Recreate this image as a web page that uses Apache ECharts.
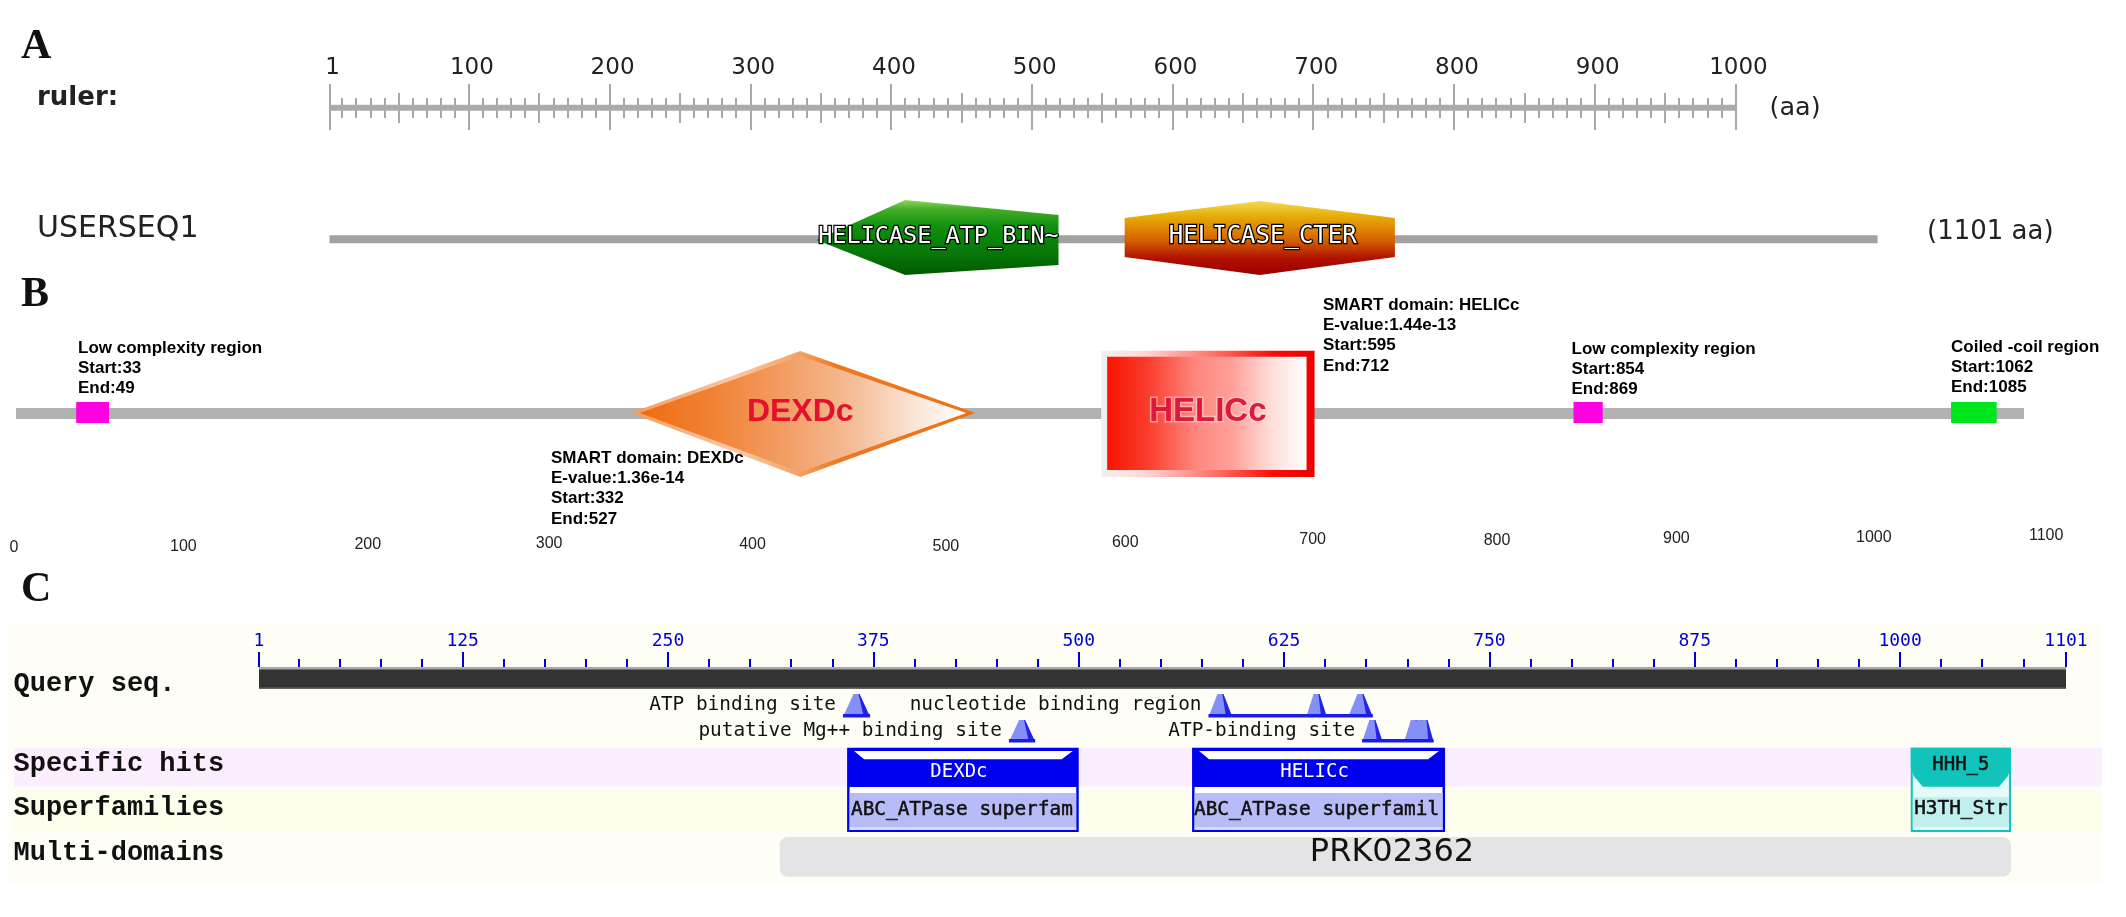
<!DOCTYPE html>
<html><head><meta charset="utf-8">
<style>html,body{margin:0;padding:0;background:#fff}#c{width:2126px;height:917px}</style>
<script src="https://cdn.jsdelivr.net/npm/echarts@6/dist/echarts.min.js"></script>
</head><body><div id="c"></div>
<script>
// ---------- values ----------
const rulerMajor = [1,100,200,300,400,500,600,700,800,900,1000];
const rulerMedium = [50,150,250,350,450,550,650,750,850,950];
const rulerMinor = [10,20,30,40,60,70,80,90,110,120,130,140,160,170,180,190,210,220,230,240,260,270,280,290,310,320,330,340,360,370,380,390,410,420,430,440,460,470,480,490,510,520,530,540,560,570,580,590,610,620,630,640,660,670,680,690,710,720,730,740,760,770,780,790,810,820,830,840,860,870,880,890,910,920,930,940,960,970,980,990];
const seqLength = 1101;
const aDomainNames = ['HELICASE_ATP_BIN~','HELICASE_CTER'];
const aDomainStart = [347,566];
const aDomainPeak  = [410,662];
const aDomainEnd   = [519,758];

const bTicks = [0,100,200,300,400,500,600,700,800,900,1000,1100];
const bBoxNames = ['Low complexity region','Low complexity region','Coiled -coil region'];
const bBoxStart = [33,854,1061];
const bBoxEnd   = [51,870,1086];
const bDexdc = [337,430,526];
const bHelicc = [595,712];

const cMajor = [1,125,250,375,500,625,750,875,1000,1101];
const cMinor = [25,50,75,100,150,175,200,225,275,300,325,350,400,425,450,475,525,550,575,600,650,675,700,725,775,800,825,850,900,925,950,975,1025,1050,1075];
const siteNames = ['ATP binding site','nucleotide binding region','putative Mg++ binding site','ATP-binding site'];
const siteRow   = [0,0,1,1];
const siteStarts = [[356.5],[579,638.5,664],[457.5],[672.5,698,702,705]];
const siteEnds   = [[373],[593.5,651,679],[473.5],[685,710,713,716]];
const hitNames  = ['DEXDc','HELICc'];
const superNames = ['ABC_ATPase superfam','ABC_ATPase superfamil'];
const hitStart  = [359,569];
const hitEnd    = [500,723];
const hthNames  = ['HHH_5','H3TH_Str'];
const hthRange  = [1006.5,1067.5];
const multiName = 'PRK02362';
const multiRange = [318,1067.5];

const bNotes = [
 ['Low complexity region','Start:33','End:49'],
 ['SMART domain: DEXDc','E-value:1.36e-14','Start:332','End:527'],
 ['SMART domain: HELICc','E-value:1.44e-13','Start:595','End:712'],
 ['Low complexity region','Start:854','End:869'],
 ['Coiled -coil region','Start:1062','End:1085']
];

// ---------- layout ----------
const notePos = [[78,338],[551,448],[1323,295],[1571.5,339],[1951,337]];
const bTickDx = [-2,-15,-13,-14,7,18,15,20,22,19,34,24];
const bTickY  = [548,547,545,544,545,547,543,540,541,539,538,536];
const G = echarts.graphic;
const grad = (h, stops) => new G.LinearGradient(0,0,h?1:0,h?0:1,stops.map((c,i)=>({offset:c[0],color:c[1]})));
const mono = 'DejaVu Sans Mono';
const poly = (points, fill, z2) => ({type:'polygon', shape:{points}, style:{fill}, z2});
const rect = (x,y,width,height,fill,r) => ({type:'rect', shape:{x,y,width,height,r:r||0}, style:{fill}});
const txt = (text,x,y,font,fill,align,extra) => ({type:'text', z2:50, style:Object.assign({text,x,y,font,fill,align:align||'center',verticalAlign:'middle'},extra||{})});
const X = (api,v) => api.coord([v,0])[0];
const hidY = i => ({type:'value',gridIndex:i,min:0,max:1,show:false});

function tickAxis(gridIndex,min,max,values,length,inside,color,width,label){
  return {type:'value',gridIndex,min,max,position:'bottom',axisLine:{show:false},splitLine:{show:false},
    axisTick:{show:true,customValues:values,length,inside,lineStyle:{color,width}},
    axisLabel:label||{show:false}};
}
function plainAxis(gridIndex,min,max){
  return {type:'value',gridIndex,min,max,show:false};
}
const rulerLabel = {show:true,inside:true,customValues:rulerMajor,margin:28,hideOverlap:false,showMinLabel:true,showMaxLabel:true,
  color:'#222',fontFamily:'DejaVu Sans',fontSize:23,padding:[0,0,0,6],formatter:v=>String(v)};
const cLabel = {show:true,inside:true,customValues:cMajor,margin:17,hideOverlap:false,showMinLabel:true,showMaxLabel:true,
  color:'#0000d0',fontFamily:mono,fontSize:18,formatter:v=>String(v)};
const tc='#a8a8a8', bc='#0000d0';

const grids = [
 {left:329.5,width:1548.1,top:0,height:917},
 {left:329.5,width:1548.1,top:107,height:1},
 {left:16,width:2008,top:0,height:917},
 {left:259,width:1807,top:0,height:917},
 {left:259,width:1807,top:666,height:1}
];
const xAxes = [
 plainAxis(0,1,seqLength),                                      //0
 plainAxis(2,0,seqLength),                                      //1
 plainAxis(3,1,seqLength),                                      //2
 tickAxis(1,1,seqLength,rulerMajor,24,true,tc,2,rulerLabel),    //3
 tickAxis(1,1,seqLength,rulerMajor,22,false,tc,2),              //4
 tickAxis(1,1,seqLength,rulerMedium,15,true,tc,2),              //5
 tickAxis(1,1,seqLength,rulerMedium,15,false,tc,2),             //6
 tickAxis(1,1,seqLength,rulerMinor,10,true,tc,2),               //7
 tickAxis(1,1,seqLength,rulerMinor,10,false,tc,2),              //8
 tickAxis(4,1,seqLength,cMajor,15,true,bc,2,cLabel),            //9
 tickAxis(4,1,seqLength,cMinor,8,true,bc,2)                     //10
];
const yAxes=[hidY(0),hidY(1),hidY(2),hidY(3),hidY(4)];
const gOf = g => ({xAxisIndex:g===0?0:g===2?1:2,yAxisIndex:g});

function custom(g,data,renderItem,z){
  return Object.assign({type:'custom',coordinateSystem:'cartesian2d',data,renderItem,clip:false,silent:true,z:z||3,encode:{x:0,y:1}},gOf(g));
}

const series = [];

// ---- Panel A
series.push(custom(0,[[1,0,1000]],(p,api)=>{
  const a=X(api,1), b=X(api,1000);
  return rect(a,104.7,b-a,6,'#aaaaaa');
}));
series.push(custom(0,[[1,0,seqLength]],(p,api)=>{
  const a=X(api,1), b=X(api,seqLength);
  return rect(a,235.3,b-a,8,'#a2a2a2');
}));
const aGrad = [
 [[0,'#8fd860'],[.12,'#45ae28'],[.35,'#109010'],[.7,'#077807'],[1,'#005a00']],
 [[0,'#f4dc50'],[.2,'#e6ae08'],[.5,'#d86a00'],[.78,'#b01000'],[1,'#9c0000']]
];
series.push(custom(0,aDomainNames.map((n,i)=>[aDomainStart[i],0,aDomainPeak[i],aDomainEnd[i]]),(p,api)=>{
  const i=p.dataIndex, a=X(api,aDomainStart[i]), m=X(api,aDomainPeak[i]), b=X(api,aDomainEnd[i]);
  const pts = i===0
    ? [[a,240],[m,200],[b,215],[b,265],[m,275]]
    : [[a,218],[m,201],[b,218],[b,257],[m,275],[a,257]];
  return {type:'group',children:[
    poly(pts,grad(false,aGrad[i])),
    txt(aDomainNames[i],(a+b)/2+(i===0?1:3),237,(i===0?'23.5px ':'24px ')+mono,'#fff','center',{stroke:'#000',lineWidth:2.5})
  ]};
},5));

// ---- Panel B
series.push(custom(2,[[0,0,seqLength]],(p,api)=>{
  const a=X(api,0), b=X(api,seqLength);
  return rect(a,408,b-a,11,'#b2b2b2');
}));
series.push(custom(2,bBoxNames.map((n,i)=>[bBoxStart[i],0,bBoxEnd[i]]),(p,api)=>{
  const i=p.dataIndex, a=X(api,bBoxStart[i]), b=X(api,bBoxEnd[i]);
  return rect(a,402,b-a,21,i===2?'#00e61e':'#ff00e0');
},5));
series.push(custom(2,[[bDexdc[0],0,bDexdc[1],bDexdc[2]]],(p,api)=>{
  const a=X(api,bDexdc[0]), m=X(api,bDexdc[1]), b=X(api,bDexdc[2]);
  const t=351,c=413,d=477,i=9;
  return {type:'group',children:[
    poly([[a,c],[m,t],[b,c],[m,d]],grad(true,[[0,'#f49a5c'],[.3,'#f9c8a4'],[.48,'#f4a468'],[.6,'#ee7822'],[1,'#ee7014']])),
    poly([[a+i,c],[m,t+5],[b-i,c],[m,d-5]],grad(true,[[0,'#ef6c10'],[.2,'#f08030'],[.45,'#f29e66'],[.65,'#f5bc96'],[.85,'#fbe6d8'],[1,'#ffffff']])),
    txt('DEXDc',m,412,'bold 32px "Liberation Sans"','#e4102c')
  ]};
},5));
series.push(custom(2,[[bHelicc[0],0,bHelicc[1]]],(p,api)=>{
  const a=X(api,bHelicc[0]), b=X(api,bHelicc[1]);
  return {type:'group',children:[
    rect(a,350.7,b-a,126.3,grad(true,[[0,'#f0f0f0'],[.2,'#ffd8d8'],[.55,'#ff6a60'],[.8,'#f81008'],[1,'#ee0000']])),
    rect(a+6,356.7,b-a-14,113.3,grad(true,[[0,'#f81400'],[.2,'#fa3c2c'],[.45,'#fe8880'],[.62,'#ff9e98'],[.82,'#ffdcd8'],[1,'#ffffff']])),
    txt('HELICc',(a+b)/2,411.7,'bold 33px "Liberation Sans"','#e0183c','center',{stroke:'rgba(255,225,225,0.55)',lineWidth:3})
  ]};
},5));
series.push(custom(2,bTicks.map(v=>[v,0]),(p,api)=>{
  const i=p.dataIndex;
  return txt(String(bTicks[i]),X(api,bTicks[i])+bTickDx[i],bTickY[i],'16px "Liberation Sans"','#222');
},6));

// ---- Panel C
series.push(custom(3,[[1,0,seqLength]],(p,api)=>{
  const a=X(api,1), b=X(api,seqLength);
  return {type:'group',children:[
    rect(a,667,b-a,22,'#333333'),
    rect(a,667,b-a,2.5,'#a8a8a8'),
    rect(a,687.5,b-a,1.5,'#666666')
  ]};
}));
const rowTop=[694,720], rowBot=[717,742];
series.push(custom(3,siteNames.map((n,i)=>[siteStarts[i][0],0]),(p,api)=>{
  const i=p.dataIndex, r=siteRow[i], t=rowTop[r], d=rowBot[r];
  const xs=siteStarts[i].map(v=>X(api,v)), xe=siteEnds[i].map(v=>X(api,v));
  const kids=[];
  xs.forEach((a,k)=>{
    const b=xe[k], w=b-a, q=Math.min(w*.4,9);
    const ta=(a+b)/2-3, tb=(a+b)/2+3;
    kids.push(poly([[a,d],[ta,t],[tb,t],[b,d]],'#8490f6'));
    kids.push(poly([[tb-1,t],[tb,t],[b,d],[b-q*.7,d]],'#2222ee'));
  });
  const L=Math.min(...xs), R=Math.max(...xe);
  kids.push(rect(L,d-3,R-L,3.5,'#1c1ce8'));
  kids.push(txt(siteNames[i],L-7,t+10.5,'19.4px '+mono,'#111','right'));
  return {type:'group',children:kids};
},5));
series.push(custom(3,hitNames.map((n,i)=>[hitStart[i],0,hitEnd[i]]),(p,api)=>{
  const i=p.dataIndex, a=X(api,hitStart[i]), b=X(api,hitEnd[i]);
  return {type:'group',children:[
    rect(a,787,b-a,45,'#0000f0'),
    rect(a+2.5,787,b-a-5,43,'#ffffff'),
    rect(a+2.5,793,b-a-5,34,'#b8bcf6'),
    rect(a+2.5,827,b-a-5,3,'#d8daff'),
    rect(a,747.7,b-a,39.3,'#0000f0'),
    poly([[a+7,751],[b-6,751],[b-17,759.3],[a+17,759.3]],'#ffffff'),
    txt(hitNames[i],(a+b)/2-4,771.7,'19px '+mono,'#fff'),
    txt(superNames[i],(a+b)/2-(i?2:1),810,'19.4px '+mono,'#111','center',{stroke:'#111',lineWidth:0.5})
  ]};
},5));
series.push(custom(3,[[hthRange[0],0,hthRange[1]]],(p,api)=>{
  const a=X(api,hthRange[0]), b=X(api,hthRange[1]), c='#10c4bc';
  return {type:'group',children:[
    rect(a,747.7,b-a,84.3,c),
    rect(a+2,760,b-a-4,70,'#e4faf8'),
    rect(a+2,797,b-a-4,30,'#bff0ee'),
    poly([[a,747.7],[b,747.7],[b,767],[b-3,776],[b-12,786.7],[a+12,786.7],[a+3,776],[a,767]],c),
    txt(hthNames[0],(a+b)/2,765,'19px '+mono,'#111','center',{stroke:'#111',lineWidth:0.5}),
    txt(hthNames[1],(a+b)/2,809,'19.4px '+mono,'#111','center',{stroke:'#111',lineWidth:0.5})
  ]};
},5));
series.push(custom(3,[[multiRange[0],0,multiRange[1]]],(p,api)=>{
  const a=X(api,multiRange[0]), b=X(api,multiRange[1]);
  return {type:'group',children:[
    rect(a,837,b-a,39.7,'#e4e4e6',8),
    txt(multiName,1392,853,'32px "DejaVu Sans"','#111')
  ]};
},4));

// ---- page text and bands
const gt=(text,x,y,font,fill,extra)=>({type:'text',x,y,z:10,style:Object.assign({text,font,fill:fill||'#111',verticalAlign:'middle'},extra||{})});
const graphic=[
 {type:'rect',z:-3,shape:{x:7,y:623,width:2095,height:260},style:{fill:'#fefef7'}},
 {type:'rect',z:-2,shape:{x:14,y:747.7,width:2088,height:39},style:{fill:'#fbeefe'}},
 {type:'rect',z:-2,shape:{x:14,y:790,width:2088,height:42},style:{fill:'#fdfdeb'}},
 gt('A',21,47,'bold 42px "Liberation Serif"'),
 gt('B',21,295,'bold 42px "Liberation Serif"'),
 gt('C',21,590,'bold 42px "Liberation Serif"'),
 gt('ruler:',37,98,'bold 26px "DejaVu Sans"','#222'),
 gt('USERSEQ1',37,229,'30px "DejaVu Sans"','#222'),
 gt('(aa)',1769.5,108,'25.5px "DejaVu Sans"','#222'),
 gt('(1101 aa)',1927,232,'26px "DejaVu Sans"','#222'),
 gt('Query seq.',13.5,684,'bold 27px "Liberation Mono"'),
 gt('Specific hits',13.5,764,'bold 27px "Liberation Mono"'),
 gt('Superfamilies',13.5,808,'bold 27px "Liberation Mono"'),
 gt('Multi-domains',13.5,853,'bold 27px "Liberation Mono"')
];
bNotes.forEach((lines,i)=>{
  lines.forEach((s,k)=>graphic.push(gt(s,notePos[i][0],notePos[i][1]+10+k*20.3,'bold 17px "Liberation Sans"','#000')));
});

const chart=echarts.init(document.getElementById('c'),null,{renderer:'canvas',width:2126,height:917});
chart.setOption({animation:false,backgroundColor:'#fff',grid:grids,xAxis:xAxes,yAxis:yAxes,series,graphic,tooltip:{show:false}});
</script></body></html>
